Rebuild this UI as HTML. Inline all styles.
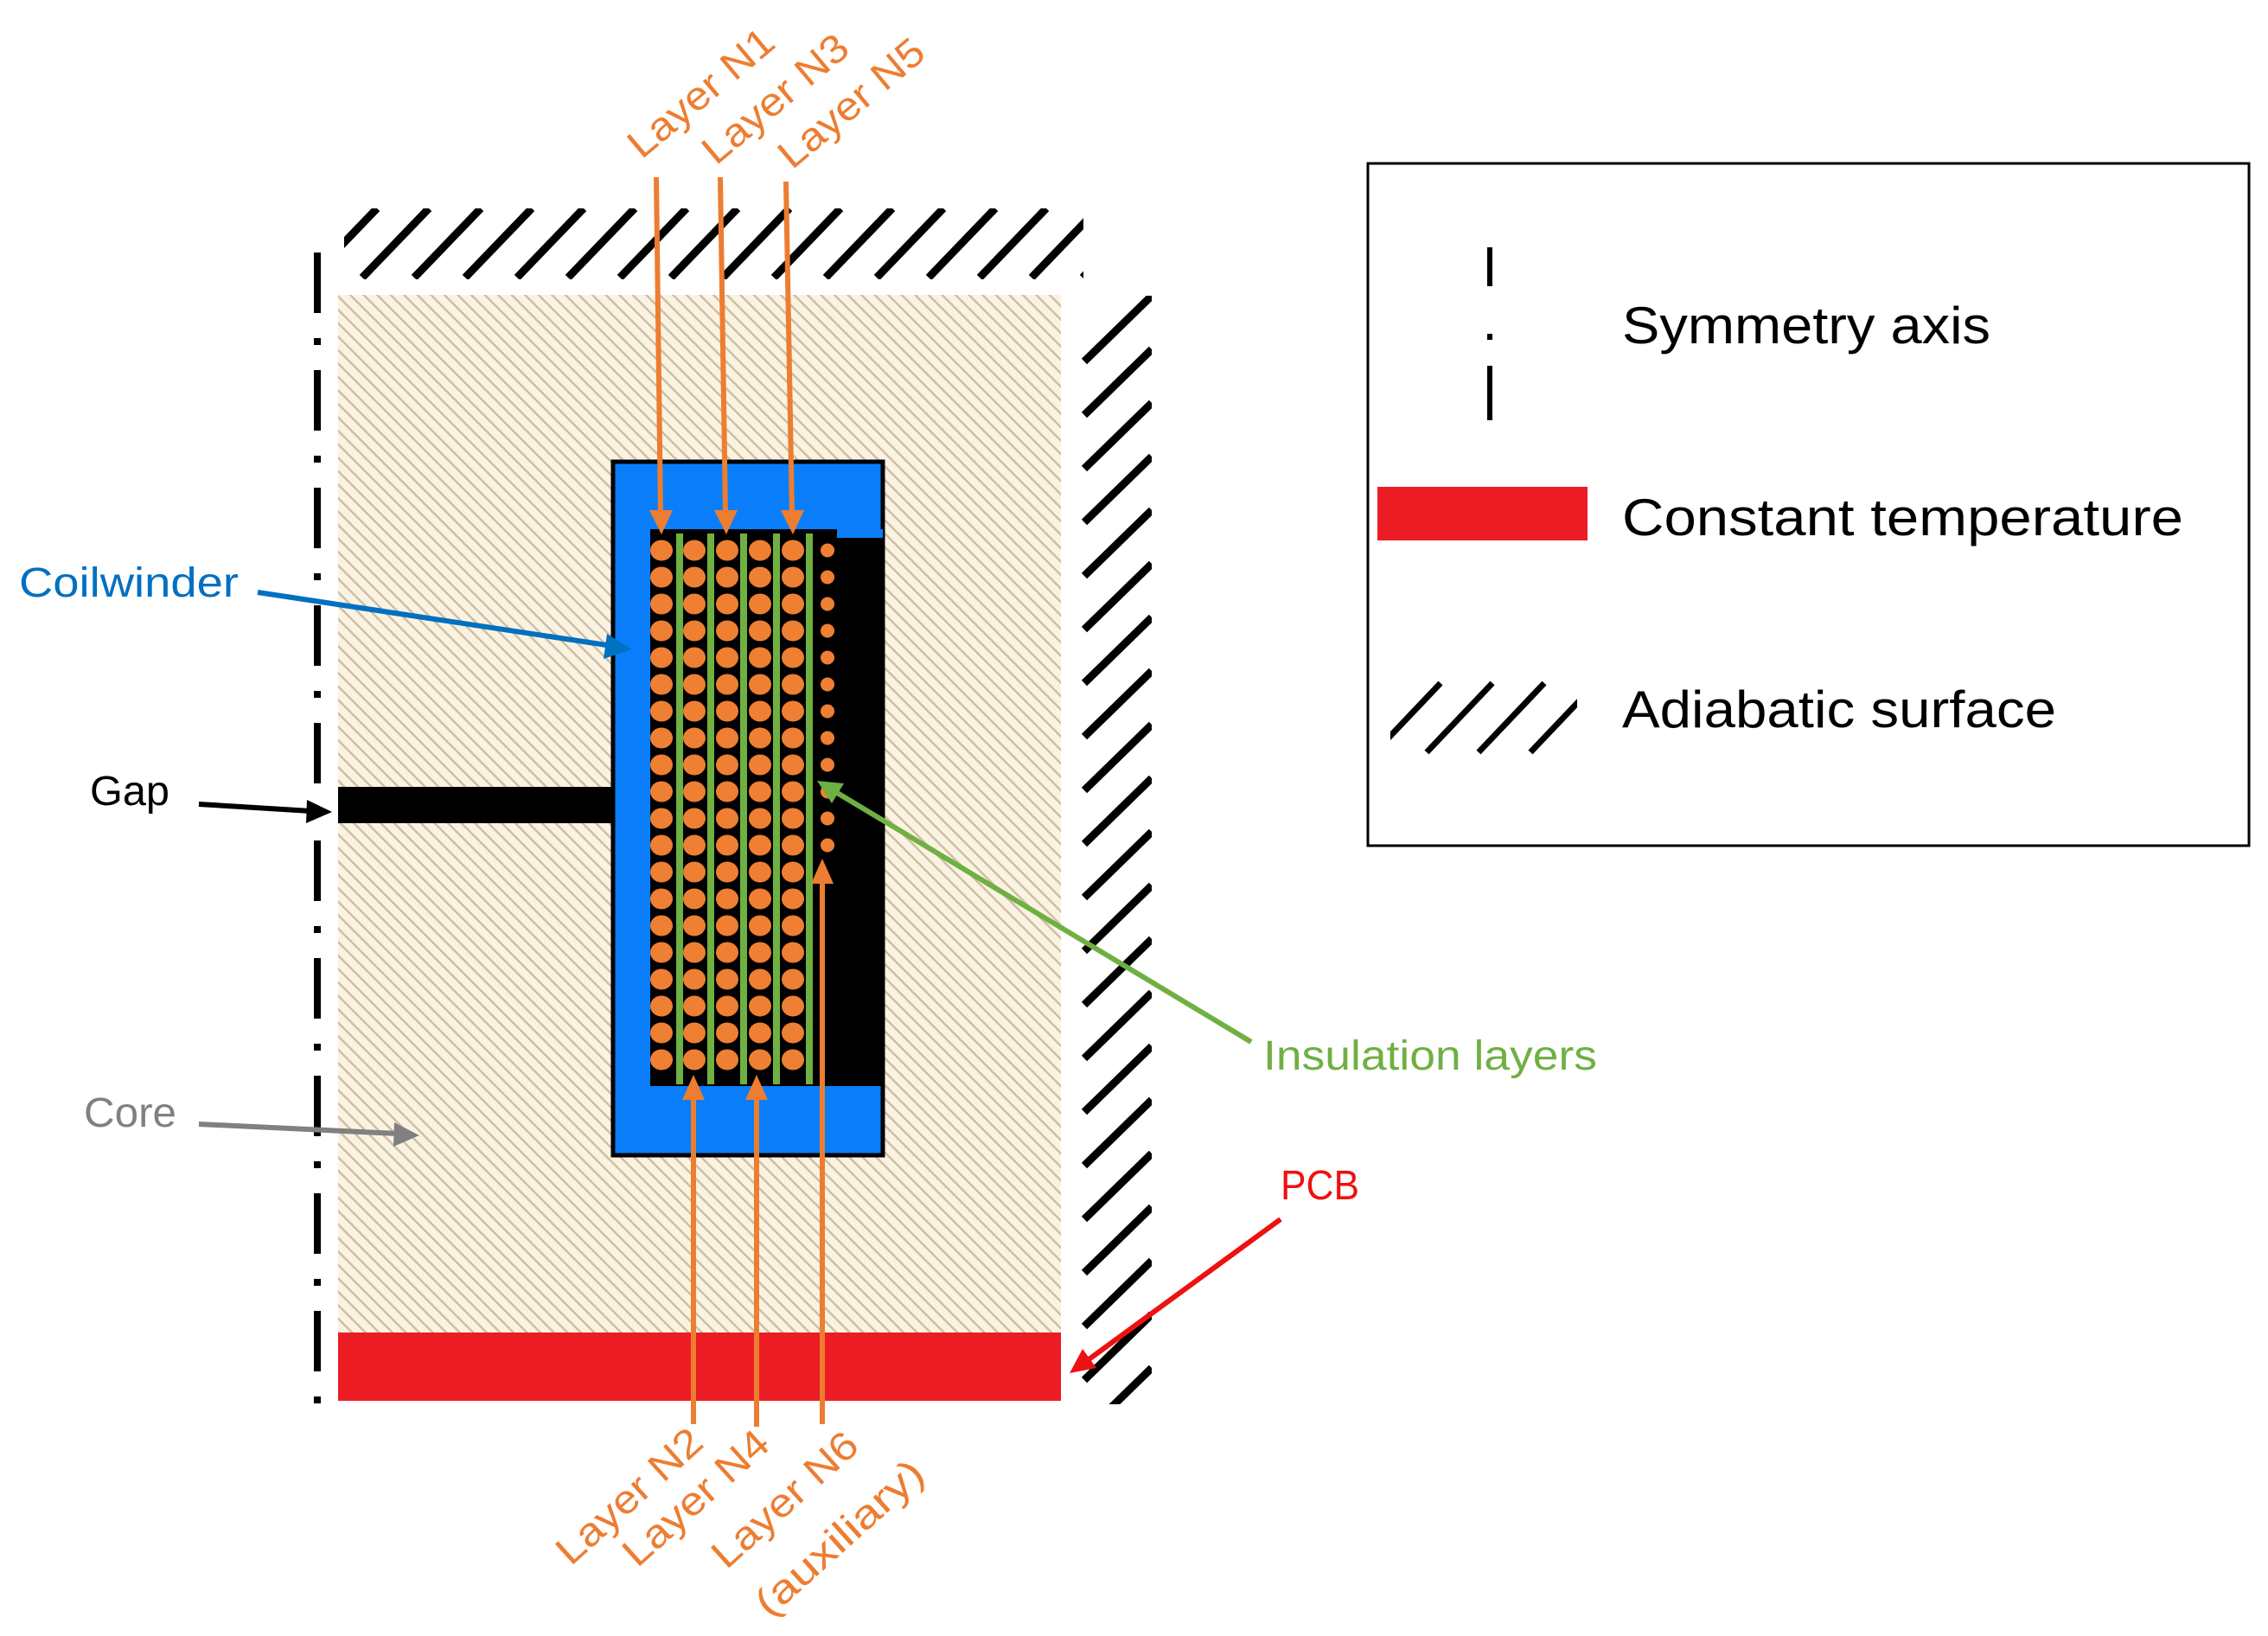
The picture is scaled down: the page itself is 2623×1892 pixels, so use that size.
<!DOCTYPE html>
<html><head><meta charset="utf-8"><style>
html,body{margin:0;padding:0;background:#fff;}
svg{display:block;}
text{font-family:"Liberation Sans",sans-serif;}
</style></head><body>
<svg width="2623" height="1892" viewBox="0 0 2623 1892" xmlns="http://www.w3.org/2000/svg">
<defs>
<pattern id="core" patternUnits="userSpaceOnUse" width="11" height="11" patternTransform="rotate(-45)">
<rect width="11" height="11" fill="#fbf3e2"/>
<rect x="0" y="0" width="2.5" height="11" fill="#cdbfa4"/>
</pattern>
<pattern id="cu" patternUnits="userSpaceOnUse" x="746" y="621" width="38" height="31">
<ellipse cx="19" cy="15.5" rx="13" ry="12" fill="#ee7f33"/>
</pattern>
<pattern id="cus" patternUnits="userSpaceOnUse" x="946" y="621" width="22" height="31">
<circle cx="11" cy="15.5" r="8" fill="#ee7f33"/>
</pattern>
<clipPath id="topc"><rect x="398" y="241" width="855" height="82"/></clipPath>
<clipPath id="rightc"><rect x="1250" y="342" width="82" height="1282"/></clipPath>
<clipPath id="legc"><rect x="1608" y="785" width="216" height="90"/></clipPath>
</defs>

<!-- core -->
<rect x="391" y="341" width="836" height="1200" fill="url(#core)"/>
<rect x="391" y="1541" width="836" height="79" fill="#ec1c24"/>
<rect x="391" y="910" width="320" height="42" fill="#000"/>

<line x1="367" y1="292" x2="367" y2="1625" stroke="#000" stroke-width="8" stroke-dasharray="70 29 8 29"/>

<g clip-path="url(#topc)" stroke="#000" stroke-width="9">
<path d="M359,321 L436,241 M419,321 L496,241 M479,321 L556,241 M538,321 L615,241 M598,321 L675,241 M657,321 L734,241 M717,321 L794,241 M776,321 L853,241 M836,321 L913,241 M895,321 L972,241 M955,321 L1032,241 M1014,321 L1091,241 M1074,321 L1151,241 M1133,321 L1210,241 M1193,321 L1270,241 M1252,321 L1329,241"/>
</g>
<g clip-path="url(#rightc)" stroke="#000" stroke-width="9">
<path d="M1254,418 L1332,342 M1254,480 L1332,404 M1254,542 L1332,466 M1254,604 L1332,528 M1254,666 L1332,590 M1254,728 L1332,652 M1254,790 L1332,714 M1254,852 L1332,776 M1254,914 L1332,838 M1254,976 L1332,900 M1254,1038 L1332,962 M1254,1100 L1332,1024 M1254,1162 L1332,1086 M1254,1224 L1332,1148 M1254,1286 L1332,1210 M1254,1348 L1332,1272 M1254,1410 L1332,1334 M1254,1472 L1332,1396 M1254,1534 L1332,1458 M1254,1596 L1332,1520 M1254,1658 L1332,1582"/>
</g>

<rect x="709" y="534" width="312" height="802" fill="#0a7efa" stroke="#000" stroke-width="5"/>
<rect x="752" y="612" width="269" height="644" fill="#000"/>
<rect x="968" y="612" width="53" height="10" fill="#0a7efa"/>
<rect x="746" y="621" width="190" height="620" fill="url(#cu)"/>
<rect x="946" y="621" width="22" height="372" fill="url(#cus)"/>
<g fill="#6fb043">
<rect x="782" y="617" width="8" height="637"/>
<rect x="818" y="617" width="8" height="637"/>
<rect x="856" y="617" width="8" height="637"/>
<rect x="894" y="617" width="8" height="637"/>
<rect x="932" y="617" width="8" height="637"/>
</g>

<g stroke="#ed7d31" stroke-width="6" fill="none">
<line x1="759" y1="205" x2="764" y2="595"/>
<line x1="833" y1="205" x2="839" y2="595"/>
<line x1="909" y1="210" x2="916" y2="595"/>
<line x1="802" y1="1647" x2="802" y2="1268"/>
<line x1="875" y1="1650" x2="875" y2="1268"/>
<line x1="951" y1="1647" x2="951" y2="1020"/>
</g>
<g fill="#ed7d31">
<path d="M751,590 L778,590 L765,618 Z"/>
<path d="M826,590 L853,590 L840,618 Z"/>
<path d="M903,590 L930,590 L917,618 Z"/>
<path d="M789,1272 L815,1272 L802,1243 Z"/>
<path d="M862,1272 L888,1272 L875,1243 Z"/>
<path d="M938,1022 L964,1022 L951,993 Z"/>
</g>
<g fill="#ed7d31" font-size="46">
<text transform="translate(742,185) rotate(-40)" textLength="205" lengthAdjust="spacingAndGlyphs">Layer N1</text>
<text transform="translate(828,192) rotate(-40)" textLength="205" lengthAdjust="spacingAndGlyphs">Layer N3</text>
<text transform="translate(916,197) rotate(-40)" textLength="205" lengthAdjust="spacingAndGlyphs">Layer N5</text>
<text transform="translate(660,1812) rotate(-42)" textLength="210" lengthAdjust="spacingAndGlyphs">Layer N2</text>
<text transform="translate(737,1814) rotate(-42)" textLength="210" lengthAdjust="spacingAndGlyphs">Layer N4</text>
<text transform="translate(840,1816) rotate(-42)" textLength="210" lengthAdjust="spacingAndGlyphs">Layer N6</text>
<text transform="translate(890,1872) rotate(-42)" textLength="245" lengthAdjust="spacingAndGlyphs">(auxiliary)</text>
</g>

<text x="22" y="690" font-size="48" fill="#0070c0" textLength="254" lengthAdjust="spacingAndGlyphs">Coilwinder</text>
<line x1="298" y1="685" x2="708" y2="747" stroke="#0070c0" stroke-width="6"/>
<path d="M731,751 L702,733 L698,762 Z" fill="#0070c0"/>
<text x="104" y="931" font-size="48" fill="#000" textLength="92" lengthAdjust="spacingAndGlyphs">Gap</text>
<line x1="230" y1="930" x2="360" y2="938" stroke="#000" stroke-width="6"/>
<path d="M384,939 L355,925 L354,952 Z" fill="#000"/>
<text x="97" y="1303" font-size="48" fill="#808080" textLength="107" lengthAdjust="spacingAndGlyphs">Core</text>
<line x1="230" y1="1300" x2="460" y2="1311" stroke="#808080" stroke-width="6"/>
<path d="M485,1313 L456,1298 L455,1326 Z" fill="#808080"/>

<line x1="1447" y1="1205" x2="965" y2="915" stroke="#6fb043" stroke-width="6"/>
<path d="M945,903 L976,906 L962,929 Z" fill="#6fb043"/>
<text x="1461" y="1237" font-size="48" fill="#6fb043" textLength="386" lengthAdjust="spacingAndGlyphs">Insulation layers</text>
<line x1="1481" y1="1410" x2="1258" y2="1573" stroke="#ee1111" stroke-width="6"/>
<path d="M1237,1588 L1252,1560 L1268,1582 Z" fill="#ee1111"/>
<text x="1481" y="1387" font-size="48" fill="#ee1111" textLength="91" lengthAdjust="spacingAndGlyphs">PCB</text>

<rect x="1582" y="189" width="1019" height="789" fill="none" stroke="#000" stroke-width="3"/>
<line x1="1723" y1="286" x2="1723" y2="331" stroke="#000" stroke-width="6"/>
<line x1="1723" y1="386" x2="1723" y2="393" stroke="#000" stroke-width="6"/>
<line x1="1723" y1="423" x2="1723" y2="486" stroke="#000" stroke-width="6"/>
<text x="1876" y="397" font-size="60" fill="#000" textLength="426" lengthAdjust="spacingAndGlyphs">Symmetry axis</text>
<rect x="1593" y="563" width="243" height="62" fill="#ec1c24"/>
<text x="1876" y="619" font-size="60" fill="#000" textLength="649" lengthAdjust="spacingAndGlyphs">Constant temperature</text>
<g clip-path="url(#legc)" stroke="#000" stroke-width="7">
<path d="M1590,870 L1666,790 M1650,870 L1726,790 M1710,870 L1786,790 M1770,870 L1846,790"/>
</g>
<text x="1876" y="841" font-size="60" fill="#000" textLength="502" lengthAdjust="spacingAndGlyphs">Adiabatic surface</text>
</svg>
</body></html>
